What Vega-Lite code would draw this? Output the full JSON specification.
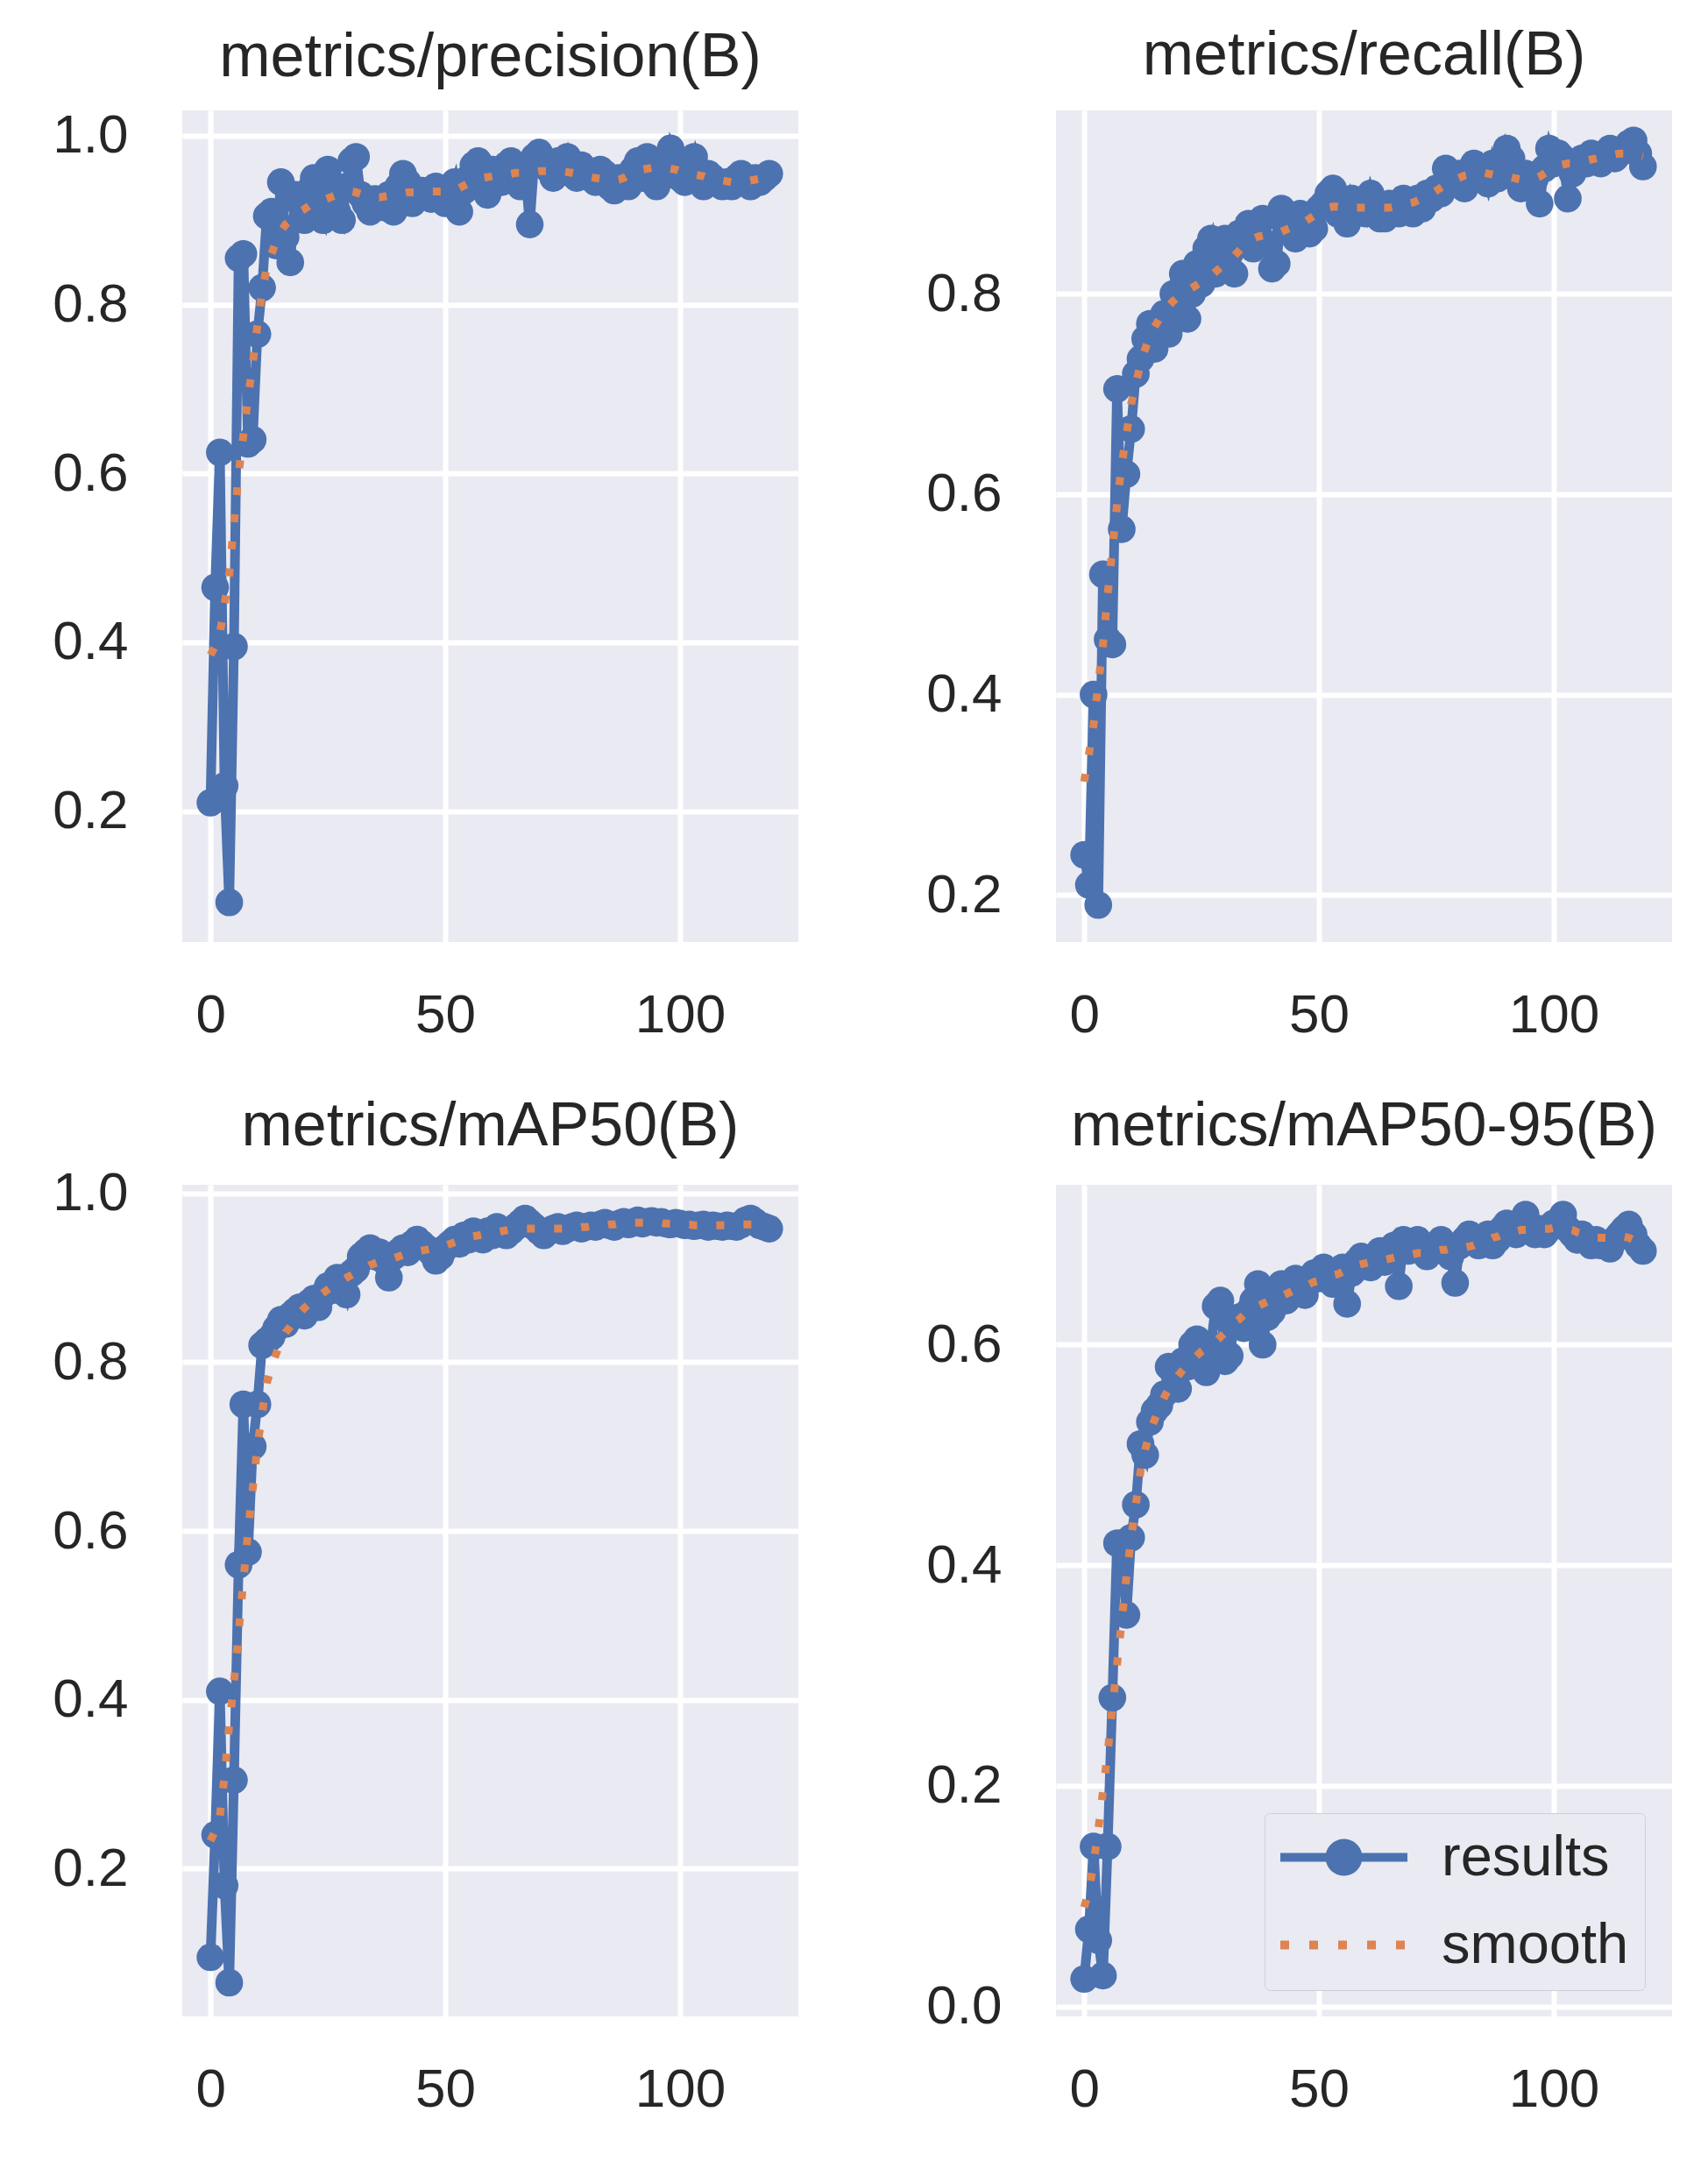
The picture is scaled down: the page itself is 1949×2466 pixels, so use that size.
{
  "$schema": "https://vega.github.io/schema/vega-lite/v6.json",
  "background": "white",
  "padding": {"left": 59, "top": 29, "right": 5, "bottom": 5},
  "datasets": {
    "runs": [
      {"metric":"P","epoch":0,"results":0.21,"smooth":0.385},
      {"metric":"P","epoch":1,"results":0.465,"smooth":0.395},
      {"metric":"P","epoch":2,"results":0.625,"smooth":0.41},
      {"metric":"P","epoch":3,"results":0.23,"smooth":0.445},
      {"metric":"P","epoch":4,"results":0.092,"smooth":0.48},
      {"metric":"P","epoch":5,"results":0.395,"smooth":0.54},
      {"metric":"P","epoch":6,"results":0.855,"smooth":0.6},
      {"metric":"P","epoch":7,"results":0.86,"smooth":0.645},
      {"metric":"P","epoch":8,"results":0.635,"smooth":0.69},
      {"metric":"P","epoch":9,"results":0.64,"smooth":0.73},
      {"metric":"P","epoch":10,"results":0.765,"smooth":0.775},
      {"metric":"P","epoch":11,"results":0.82,"smooth":0.815},
      {"metric":"P","epoch":12,"results":0.905,"smooth":0.845},
      {"metric":"P","epoch":13,"results":0.91,"smooth":0.86},
      {"metric":"P","epoch":14,"results":0.87,"smooth":0.875},
      {"metric":"P","epoch":15,"results":0.945,"smooth":0.887},
      {"metric":"P","epoch":16,"results":0.88,"smooth":0.895},
      {"metric":"P","epoch":17,"results":0.85,"smooth":0.9},
      {"metric":"P","epoch":18,"results":0.93,"smooth":0.905},
      {"metric":"P","epoch":19,"results":0.92,"smooth":0.91},
      {"metric":"P","epoch":20,"results":0.9,"smooth":0.913},
      {"metric":"P","epoch":21,"results":0.935,"smooth":0.917},
      {"metric":"P","epoch":22,"results":0.95,"smooth":0.92},
      {"metric":"P","epoch":23,"results":0.91,"smooth":0.922},
      {"metric":"P","epoch":24,"results":0.9,"smooth":0.924},
      {"metric":"P","epoch":25,"results":0.96,"smooth":0.926},
      {"metric":"P","epoch":26,"results":0.93,"smooth":0.928},
      {"metric":"P","epoch":27,"results":0.91,"smooth":0.93},
      {"metric":"P","epoch":28,"results":0.9,"smooth":0.932},
      {"metric":"P","epoch":29,"results":0.94,"smooth":0.933},
      {"metric":"P","epoch":30,"results":0.97,"smooth":0.934},
      {"metric":"P","epoch":31,"results":0.975,"smooth":0.933},
      {"metric":"P","epoch":32,"results":0.93,"smooth":0.931},
      {"metric":"P","epoch":33,"results":0.92,"smooth":0.929},
      {"metric":"P","epoch":34,"results":0.91,"smooth":0.928},
      {"metric":"P","epoch":35,"results":0.925,"smooth":0.927},
      {"metric":"P","epoch":36,"results":0.92,"smooth":0.927},
      {"metric":"P","epoch":37,"results":0.915,"smooth":0.928},
      {"metric":"P","epoch":38,"results":0.93,"smooth":0.929},
      {"metric":"P","epoch":39,"results":0.91,"smooth":0.93},
      {"metric":"P","epoch":40,"results":0.94,"smooth":0.931},
      {"metric":"P","epoch":41,"results":0.955,"smooth":0.932},
      {"metric":"P","epoch":42,"results":0.945,"smooth":0.933},
      {"metric":"P","epoch":43,"results":0.92,"smooth":0.933},
      {"metric":"P","epoch":44,"results":0.93,"smooth":0.933},
      {"metric":"P","epoch":45,"results":0.935,"smooth":0.933},
      {"metric":"P","epoch":46,"results":0.93,"smooth":0.933},
      {"metric":"P","epoch":47,"results":0.925,"smooth":0.934},
      {"metric":"P","epoch":48,"results":0.94,"smooth":0.934},
      {"metric":"P","epoch":49,"results":0.93,"smooth":0.934},
      {"metric":"P","epoch":50,"results":0.92,"smooth":0.934},
      {"metric":"P","epoch":51,"results":0.93,"smooth":0.935},
      {"metric":"P","epoch":52,"results":0.945,"smooth":0.936},
      {"metric":"P","epoch":53,"results":0.91,"smooth":0.938},
      {"metric":"P","epoch":54,"results":0.935,"smooth":0.941},
      {"metric":"P","epoch":55,"results":0.95,"smooth":0.944},
      {"metric":"P","epoch":56,"results":0.965,"smooth":0.947},
      {"metric":"P","epoch":57,"results":0.97,"smooth":0.949},
      {"metric":"P","epoch":58,"results":0.94,"smooth":0.95},
      {"metric":"P","epoch":59,"results":0.93,"smooth":0.951},
      {"metric":"P","epoch":60,"results":0.96,"smooth":0.952},
      {"metric":"P","epoch":61,"results":0.95,"smooth":0.953},
      {"metric":"P","epoch":62,"results":0.945,"smooth":0.954},
      {"metric":"P","epoch":63,"results":0.965,"smooth":0.955},
      {"metric":"P","epoch":64,"results":0.97,"smooth":0.955},
      {"metric":"P","epoch":65,"results":0.95,"smooth":0.956},
      {"metric":"P","epoch":66,"results":0.94,"smooth":0.956},
      {"metric":"P","epoch":67,"results":0.96,"smooth":0.957},
      {"metric":"P","epoch":68,"results":0.895,"smooth":0.957},
      {"metric":"P","epoch":69,"results":0.975,"smooth":0.957},
      {"metric":"P","epoch":70,"results":0.98,"smooth":0.958},
      {"metric":"P","epoch":71,"results":0.97,"smooth":0.958},
      {"metric":"P","epoch":72,"results":0.96,"smooth":0.958},
      {"metric":"P","epoch":73,"results":0.95,"smooth":0.958},
      {"metric":"P","epoch":74,"results":0.97,"smooth":0.958},
      {"metric":"P","epoch":75,"results":0.96,"smooth":0.958},
      {"metric":"P","epoch":76,"results":0.975,"smooth":0.957},
      {"metric":"P","epoch":77,"results":0.955,"smooth":0.956},
      {"metric":"P","epoch":78,"results":0.95,"smooth":0.955},
      {"metric":"P","epoch":79,"results":0.965,"smooth":0.954},
      {"metric":"P","epoch":80,"results":0.96,"smooth":0.953},
      {"metric":"P","epoch":81,"results":0.95,"smooth":0.951},
      {"metric":"P","epoch":82,"results":0.945,"smooth":0.95},
      {"metric":"P","epoch":83,"results":0.96,"smooth":0.949},
      {"metric":"P","epoch":84,"results":0.955,"smooth":0.948},
      {"metric":"P","epoch":85,"results":0.94,"smooth":0.947},
      {"metric":"P","epoch":86,"results":0.935,"smooth":0.947},
      {"metric":"P","epoch":87,"results":0.95,"smooth":0.948},
      {"metric":"P","epoch":88,"results":0.945,"smooth":0.95},
      {"metric":"P","epoch":89,"results":0.94,"smooth":0.953},
      {"metric":"P","epoch":90,"results":0.96,"smooth":0.956},
      {"metric":"P","epoch":91,"results":0.97,"smooth":0.958},
      {"metric":"P","epoch":92,"results":0.95,"smooth":0.96},
      {"metric":"P","epoch":93,"results":0.975,"smooth":0.961},
      {"metric":"P","epoch":94,"results":0.965,"smooth":0.962},
      {"metric":"P","epoch":95,"results":0.94,"smooth":0.962},
      {"metric":"P","epoch":96,"results":0.95,"smooth":0.962},
      {"metric":"P","epoch":97,"results":0.96,"smooth":0.962},
      {"metric":"P","epoch":98,"results":0.985,"smooth":0.961},
      {"metric":"P","epoch":99,"results":0.97,"smooth":0.96},
      {"metric":"P","epoch":100,"results":0.95,"smooth":0.958},
      {"metric":"P","epoch":101,"results":0.945,"smooth":0.956},
      {"metric":"P","epoch":102,"results":0.96,"smooth":0.955},
      {"metric":"P","epoch":103,"results":0.975,"smooth":0.954},
      {"metric":"P","epoch":104,"results":0.95,"smooth":0.953},
      {"metric":"P","epoch":105,"results":0.94,"smooth":0.952},
      {"metric":"P","epoch":106,"results":0.955,"smooth":0.95},
      {"metric":"P","epoch":107,"results":0.95,"smooth":0.949},
      {"metric":"P","epoch":108,"results":0.945,"smooth":0.948},
      {"metric":"P","epoch":109,"results":0.94,"smooth":0.947},
      {"metric":"P","epoch":110,"results":0.945,"smooth":0.946},
      {"metric":"P","epoch":111,"results":0.94,"smooth":0.945},
      {"metric":"P","epoch":112,"results":0.95,"smooth":0.945},
      {"metric":"P","epoch":113,"results":0.955,"smooth":0.945},
      {"metric":"P","epoch":114,"results":0.945,"smooth":0.946},
      {"metric":"P","epoch":115,"results":0.94,"smooth":0.947},
      {"metric":"P","epoch":116,"results":0.95,"smooth":0.948},
      {"metric":"P","epoch":117,"results":0.945,"smooth":0.949},
      {"metric":"P","epoch":118,"results":0.95,"smooth":0.95},
      {"metric":"P","epoch":119,"results":0.955,"smooth":0.951},
      {"metric":"R","epoch":0,"results":0.24,"smooth":0.313},
      {"metric":"R","epoch":1,"results":0.21,"smooth":0.34},
      {"metric":"R","epoch":2,"results":0.4,"smooth":0.37},
      {"metric":"R","epoch":3,"results":0.19,"smooth":0.41},
      {"metric":"R","epoch":4,"results":0.52,"smooth":0.45},
      {"metric":"R","epoch":5,"results":0.455,"smooth":0.5},
      {"metric":"R","epoch":6,"results":0.45,"smooth":0.545},
      {"metric":"R","epoch":7,"results":0.705,"smooth":0.59},
      {"metric":"R","epoch":8,"results":0.565,"smooth":0.63},
      {"metric":"R","epoch":9,"results":0.62,"smooth":0.66},
      {"metric":"R","epoch":10,"results":0.665,"smooth":0.69},
      {"metric":"R","epoch":11,"results":0.72,"smooth":0.71},
      {"metric":"R","epoch":12,"results":0.735,"smooth":0.73},
      {"metric":"R","epoch":13,"results":0.755,"smooth":0.745},
      {"metric":"R","epoch":14,"results":0.77,"smooth":0.758},
      {"metric":"R","epoch":15,"results":0.745,"smooth":0.767},
      {"metric":"R","epoch":16,"results":0.765,"smooth":0.775},
      {"metric":"R","epoch":17,"results":0.78,"smooth":0.782},
      {"metric":"R","epoch":18,"results":0.76,"smooth":0.788},
      {"metric":"R","epoch":19,"results":0.8,"smooth":0.793},
      {"metric":"R","epoch":20,"results":0.79,"smooth":0.797},
      {"metric":"R","epoch":21,"results":0.82,"smooth":0.8},
      {"metric":"R","epoch":22,"results":0.775,"smooth":0.803},
      {"metric":"R","epoch":23,"results":0.8,"smooth":0.806},
      {"metric":"R","epoch":24,"results":0.83,"smooth":0.809},
      {"metric":"R","epoch":25,"results":0.81,"smooth":0.812},
      {"metric":"R","epoch":26,"results":0.845,"smooth":0.815},
      {"metric":"R","epoch":27,"results":0.855,"smooth":0.818},
      {"metric":"R","epoch":28,"results":0.82,"smooth":0.822},
      {"metric":"R","epoch":29,"results":0.83,"smooth":0.826},
      {"metric":"R","epoch":30,"results":0.855,"smooth":0.83},
      {"metric":"R","epoch":31,"results":0.84,"smooth":0.834},
      {"metric":"R","epoch":32,"results":0.82,"smooth":0.838},
      {"metric":"R","epoch":33,"results":0.86,"smooth":0.843},
      {"metric":"R","epoch":34,"results":0.85,"smooth":0.848},
      {"metric":"R","epoch":35,"results":0.87,"smooth":0.852},
      {"metric":"R","epoch":36,"results":0.845,"smooth":0.855},
      {"metric":"R","epoch":37,"results":0.86,"smooth":0.857},
      {"metric":"R","epoch":38,"results":0.875,"smooth":0.858},
      {"metric":"R","epoch":39,"results":0.85,"smooth":0.859},
      {"metric":"R","epoch":40,"results":0.825,"smooth":0.86},
      {"metric":"R","epoch":41,"results":0.83,"smooth":0.861},
      {"metric":"R","epoch":42,"results":0.885,"smooth":0.862},
      {"metric":"R","epoch":43,"results":0.865,"smooth":0.864},
      {"metric":"R","epoch":44,"results":0.87,"smooth":0.866},
      {"metric":"R","epoch":45,"results":0.855,"smooth":0.868},
      {"metric":"R","epoch":46,"results":0.88,"smooth":0.87},
      {"metric":"R","epoch":47,"results":0.875,"smooth":0.872},
      {"metric":"R","epoch":48,"results":0.86,"smooth":0.875},
      {"metric":"R","epoch":49,"results":0.865,"smooth":0.878},
      {"metric":"R","epoch":50,"results":0.885,"smooth":0.881},
      {"metric":"R","epoch":51,"results":0.89,"smooth":0.884},
      {"metric":"R","epoch":52,"results":0.9,"smooth":0.886},
      {"metric":"R","epoch":53,"results":0.905,"smooth":0.887},
      {"metric":"R","epoch":54,"results":0.88,"smooth":0.887},
      {"metric":"R","epoch":55,"results":0.885,"smooth":0.886},
      {"metric":"R","epoch":56,"results":0.87,"smooth":0.886},
      {"metric":"R","epoch":57,"results":0.895,"smooth":0.886},
      {"metric":"R","epoch":58,"results":0.885,"smooth":0.886},
      {"metric":"R","epoch":59,"results":0.89,"smooth":0.886},
      {"metric":"R","epoch":60,"results":0.88,"smooth":0.886},
      {"metric":"R","epoch":61,"results":0.9,"smooth":0.886},
      {"metric":"R","epoch":62,"results":0.885,"smooth":0.886},
      {"metric":"R","epoch":63,"results":0.875,"smooth":0.886},
      {"metric":"R","epoch":64,"results":0.875,"smooth":0.886},
      {"metric":"R","epoch":65,"results":0.89,"smooth":0.886},
      {"metric":"R","epoch":66,"results":0.885,"smooth":0.887},
      {"metric":"R","epoch":67,"results":0.88,"smooth":0.888},
      {"metric":"R","epoch":68,"results":0.895,"smooth":0.889},
      {"metric":"R","epoch":69,"results":0.89,"smooth":0.89},
      {"metric":"R","epoch":70,"results":0.88,"smooth":0.891},
      {"metric":"R","epoch":71,"results":0.895,"smooth":0.893},
      {"metric":"R","epoch":72,"results":0.885,"smooth":0.895},
      {"metric":"R","epoch":73,"results":0.9,"smooth":0.897},
      {"metric":"R","epoch":74,"results":0.895,"smooth":0.9},
      {"metric":"R","epoch":75,"results":0.905,"smooth":0.903},
      {"metric":"R","epoch":76,"results":0.9,"smooth":0.906},
      {"metric":"R","epoch":77,"results":0.925,"smooth":0.909},
      {"metric":"R","epoch":78,"results":0.91,"smooth":0.912},
      {"metric":"R","epoch":79,"results":0.915,"smooth":0.914},
      {"metric":"R","epoch":80,"results":0.92,"smooth":0.916},
      {"metric":"R","epoch":81,"results":0.905,"smooth":0.918},
      {"metric":"R","epoch":82,"results":0.915,"smooth":0.919},
      {"metric":"R","epoch":83,"results":0.93,"smooth":0.92},
      {"metric":"R","epoch":84,"results":0.92,"smooth":0.921},
      {"metric":"R","epoch":85,"results":0.925,"smooth":0.921},
      {"metric":"R","epoch":86,"results":0.91,"smooth":0.92},
      {"metric":"R","epoch":87,"results":0.93,"smooth":0.919},
      {"metric":"R","epoch":88,"results":0.915,"smooth":0.918},
      {"metric":"R","epoch":89,"results":0.92,"smooth":0.917},
      {"metric":"R","epoch":90,"results":0.945,"smooth":0.916},
      {"metric":"R","epoch":91,"results":0.935,"smooth":0.916},
      {"metric":"R","epoch":92,"results":0.915,"smooth":0.915},
      {"metric":"R","epoch":93,"results":0.905,"smooth":0.914},
      {"metric":"R","epoch":94,"results":0.92,"smooth":0.914},
      {"metric":"R","epoch":95,"results":0.91,"smooth":0.914},
      {"metric":"R","epoch":96,"results":0.915,"smooth":0.915},
      {"metric":"R","epoch":97,"results":0.89,"smooth":0.917},
      {"metric":"R","epoch":98,"results":0.925,"smooth":0.92},
      {"metric":"R","epoch":99,"results":0.945,"smooth":0.923},
      {"metric":"R","epoch":100,"results":0.93,"smooth":0.926},
      {"metric":"R","epoch":101,"results":0.94,"smooth":0.928},
      {"metric":"R","epoch":102,"results":0.935,"smooth":0.929},
      {"metric":"R","epoch":103,"results":0.895,"smooth":0.93},
      {"metric":"R","epoch":104,"results":0.92,"smooth":0.93},
      {"metric":"R","epoch":105,"results":0.93,"smooth":0.931},
      {"metric":"R","epoch":106,"results":0.935,"smooth":0.932},
      {"metric":"R","epoch":107,"results":0.93,"smooth":0.933},
      {"metric":"R","epoch":108,"results":0.94,"smooth":0.934},
      {"metric":"R","epoch":109,"results":0.935,"smooth":0.935},
      {"metric":"R","epoch":110,"results":0.93,"smooth":0.936},
      {"metric":"R","epoch":111,"results":0.94,"smooth":0.937},
      {"metric":"R","epoch":112,"results":0.945,"smooth":0.938},
      {"metric":"R","epoch":113,"results":0.935,"smooth":0.939},
      {"metric":"R","epoch":114,"results":0.94,"smooth":0.94},
      {"metric":"R","epoch":115,"results":0.945,"smooth":0.94},
      {"metric":"R","epoch":116,"results":0.95,"smooth":0.94},
      {"metric":"R","epoch":117,"results":0.953,"smooth":0.939},
      {"metric":"R","epoch":118,"results":0.94,"smooth":0.938},
      {"metric":"R","epoch":119,"results":0.927,"smooth":0.937},
      {"metric":"M50","epoch":0,"results":0.095,"smooth":0.233},
      {"metric":"M50","epoch":1,"results":0.24,"smooth":0.245},
      {"metric":"M50","epoch":2,"results":0.41,"smooth":0.262},
      {"metric":"M50","epoch":3,"results":0.18,"smooth":0.31},
      {"metric":"M50","epoch":4,"results":0.065,"smooth":0.37},
      {"metric":"M50","epoch":5,"results":0.305,"smooth":0.42},
      {"metric":"M50","epoch":6,"results":0.56,"smooth":0.48},
      {"metric":"M50","epoch":7,"results":0.75,"smooth":0.54},
      {"metric":"M50","epoch":8,"results":0.575,"smooth":0.6},
      {"metric":"M50","epoch":9,"results":0.7,"smooth":0.65},
      {"metric":"M50","epoch":10,"results":0.75,"smooth":0.7},
      {"metric":"M50","epoch":11,"results":0.82,"smooth":0.74},
      {"metric":"M50","epoch":12,"results":0.825,"smooth":0.775},
      {"metric":"M50","epoch":13,"results":0.83,"smooth":0.795},
      {"metric":"M50","epoch":14,"results":0.84,"smooth":0.81},
      {"metric":"M50","epoch":15,"results":0.85,"smooth":0.825},
      {"metric":"M50","epoch":16,"results":0.845,"smooth":0.835},
      {"metric":"M50","epoch":17,"results":0.855,"smooth":0.842},
      {"metric":"M50","epoch":18,"results":0.86,"smooth":0.85},
      {"metric":"M50","epoch":19,"results":0.865,"smooth":0.858},
      {"metric":"M50","epoch":20,"results":0.855,"smooth":0.864},
      {"metric":"M50","epoch":21,"results":0.87,"smooth":0.869},
      {"metric":"M50","epoch":22,"results":0.875,"smooth":0.874},
      {"metric":"M50","epoch":23,"results":0.865,"smooth":0.878},
      {"metric":"M50","epoch":24,"results":0.88,"smooth":0.882},
      {"metric":"M50","epoch":25,"results":0.89,"smooth":0.886},
      {"metric":"M50","epoch":26,"results":0.885,"smooth":0.89},
      {"metric":"M50","epoch":27,"results":0.9,"smooth":0.894},
      {"metric":"M50","epoch":28,"results":0.895,"smooth":0.897},
      {"metric":"M50","epoch":29,"results":0.88,"smooth":0.9},
      {"metric":"M50","epoch":30,"results":0.905,"smooth":0.903},
      {"metric":"M50","epoch":31,"results":0.91,"smooth":0.906},
      {"metric":"M50","epoch":32,"results":0.925,"smooth":0.909},
      {"metric":"M50","epoch":33,"results":0.93,"smooth":0.912},
      {"metric":"M50","epoch":34,"results":0.935,"smooth":0.915},
      {"metric":"M50","epoch":35,"results":0.925,"smooth":0.917},
      {"metric":"M50","epoch":36,"results":0.93,"smooth":0.919},
      {"metric":"M50","epoch":37,"results":0.92,"smooth":0.921},
      {"metric":"M50","epoch":38,"results":0.9,"smooth":0.922},
      {"metric":"M50","epoch":39,"results":0.925,"smooth":0.923},
      {"metric":"M50","epoch":40,"results":0.93,"smooth":0.925},
      {"metric":"M50","epoch":41,"results":0.935,"smooth":0.927},
      {"metric":"M50","epoch":42,"results":0.93,"smooth":0.929},
      {"metric":"M50","epoch":43,"results":0.94,"smooth":0.93},
      {"metric":"M50","epoch":44,"results":0.945,"smooth":0.931},
      {"metric":"M50","epoch":45,"results":0.94,"smooth":0.932},
      {"metric":"M50","epoch":46,"results":0.935,"smooth":0.933},
      {"metric":"M50","epoch":47,"results":0.93,"smooth":0.934},
      {"metric":"M50","epoch":48,"results":0.92,"smooth":0.935},
      {"metric":"M50","epoch":49,"results":0.925,"smooth":0.937},
      {"metric":"M50","epoch":50,"results":0.935,"smooth":0.938},
      {"metric":"M50","epoch":51,"results":0.94,"smooth":0.94},
      {"metric":"M50","epoch":52,"results":0.945,"smooth":0.942},
      {"metric":"M50","epoch":53,"results":0.94,"smooth":0.944},
      {"metric":"M50","epoch":54,"results":0.95,"smooth":0.946},
      {"metric":"M50","epoch":55,"results":0.945,"smooth":0.948},
      {"metric":"M50","epoch":56,"results":0.955,"smooth":0.949},
      {"metric":"M50","epoch":57,"results":0.95,"smooth":0.95},
      {"metric":"M50","epoch":58,"results":0.945,"smooth":0.951},
      {"metric":"M50","epoch":59,"results":0.955,"smooth":0.952},
      {"metric":"M50","epoch":60,"results":0.95,"smooth":0.953},
      {"metric":"M50","epoch":61,"results":0.96,"smooth":0.954},
      {"metric":"M50","epoch":62,"results":0.955,"smooth":0.955},
      {"metric":"M50","epoch":63,"results":0.95,"smooth":0.956},
      {"metric":"M50","epoch":64,"results":0.955,"smooth":0.957},
      {"metric":"M50","epoch":65,"results":0.96,"smooth":0.957},
      {"metric":"M50","epoch":66,"results":0.965,"smooth":0.958},
      {"metric":"M50","epoch":67,"results":0.97,"smooth":0.958},
      {"metric":"M50","epoch":68,"results":0.965,"smooth":0.958},
      {"metric":"M50","epoch":69,"results":0.96,"smooth":0.958},
      {"metric":"M50","epoch":70,"results":0.955,"smooth":0.958},
      {"metric":"M50","epoch":71,"results":0.95,"smooth":0.958},
      {"metric":"M50","epoch":72,"results":0.955,"smooth":0.958},
      {"metric":"M50","epoch":73,"results":0.958,"smooth":0.958},
      {"metric":"M50","epoch":74,"results":0.96,"smooth":0.958},
      {"metric":"M50","epoch":75,"results":0.955,"smooth":0.958},
      {"metric":"M50","epoch":76,"results":0.958,"smooth":0.959},
      {"metric":"M50","epoch":77,"results":0.96,"smooth":0.959},
      {"metric":"M50","epoch":78,"results":0.962,"smooth":0.959},
      {"metric":"M50","epoch":79,"results":0.958,"smooth":0.96},
      {"metric":"M50","epoch":80,"results":0.96,"smooth":0.96},
      {"metric":"M50","epoch":81,"results":0.962,"smooth":0.961},
      {"metric":"M50","epoch":82,"results":0.96,"smooth":0.961},
      {"metric":"M50","epoch":83,"results":0.963,"smooth":0.962},
      {"metric":"M50","epoch":84,"results":0.965,"smooth":0.962},
      {"metric":"M50","epoch":85,"results":0.962,"smooth":0.963},
      {"metric":"M50","epoch":86,"results":0.96,"smooth":0.963},
      {"metric":"M50","epoch":87,"results":0.964,"smooth":0.964},
      {"metric":"M50","epoch":88,"results":0.966,"smooth":0.964},
      {"metric":"M50","epoch":89,"results":0.963,"smooth":0.965},
      {"metric":"M50","epoch":90,"results":0.965,"smooth":0.965},
      {"metric":"M50","epoch":91,"results":0.968,"smooth":0.965},
      {"metric":"M50","epoch":92,"results":0.964,"smooth":0.965},
      {"metric":"M50","epoch":93,"results":0.966,"smooth":0.965},
      {"metric":"M50","epoch":94,"results":0.967,"smooth":0.965},
      {"metric":"M50","epoch":95,"results":0.965,"smooth":0.965},
      {"metric":"M50","epoch":96,"results":0.966,"smooth":0.965},
      {"metric":"M50","epoch":97,"results":0.964,"smooth":0.964},
      {"metric":"M50","epoch":98,"results":0.963,"smooth":0.964},
      {"metric":"M50","epoch":99,"results":0.965,"smooth":0.964},
      {"metric":"M50","epoch":100,"results":0.964,"smooth":0.963},
      {"metric":"M50","epoch":101,"results":0.962,"smooth":0.963},
      {"metric":"M50","epoch":102,"results":0.963,"smooth":0.963},
      {"metric":"M50","epoch":103,"results":0.961,"smooth":0.962},
      {"metric":"M50","epoch":104,"results":0.962,"smooth":0.962},
      {"metric":"M50","epoch":105,"results":0.963,"smooth":0.962},
      {"metric":"M50","epoch":106,"results":0.96,"smooth":0.962},
      {"metric":"M50","epoch":107,"results":0.962,"smooth":0.962},
      {"metric":"M50","epoch":108,"results":0.961,"smooth":0.962},
      {"metric":"M50","epoch":109,"results":0.96,"smooth":0.962},
      {"metric":"M50","epoch":110,"results":0.962,"smooth":0.962},
      {"metric":"M50","epoch":111,"results":0.961,"smooth":0.962},
      {"metric":"M50","epoch":112,"results":0.96,"smooth":0.962},
      {"metric":"M50","epoch":113,"results":0.963,"smooth":0.963},
      {"metric":"M50","epoch":114,"results":0.968,"smooth":0.963},
      {"metric":"M50","epoch":115,"results":0.97,"smooth":0.963},
      {"metric":"M50","epoch":116,"results":0.966,"smooth":0.963},
      {"metric":"M50","epoch":117,"results":0.962,"smooth":0.962},
      {"metric":"M50","epoch":118,"results":0.96,"smooth":0.961},
      {"metric":"M50","epoch":119,"results":0.958,"smooth":0.96},
      {"metric":"M95","epoch":0,"results":0.025,"smooth":0.09},
      {"metric":"M95","epoch":1,"results":0.07,"smooth":0.105},
      {"metric":"M95","epoch":2,"results":0.145,"smooth":0.13},
      {"metric":"M95","epoch":3,"results":0.06,"smooth":0.16},
      {"metric":"M95","epoch":4,"results":0.028,"smooth":0.195},
      {"metric":"M95","epoch":5,"results":0.145,"smooth":0.23},
      {"metric":"M95","epoch":6,"results":0.28,"smooth":0.27},
      {"metric":"M95","epoch":7,"results":0.42,"smooth":0.31},
      {"metric":"M95","epoch":8,"results":0.42,"smooth":0.35},
      {"metric":"M95","epoch":9,"results":0.355,"smooth":0.39},
      {"metric":"M95","epoch":10,"results":0.425,"smooth":0.425},
      {"metric":"M95","epoch":11,"results":0.455,"smooth":0.455},
      {"metric":"M95","epoch":12,"results":0.51,"smooth":0.485},
      {"metric":"M95","epoch":13,"results":0.5,"smooth":0.505},
      {"metric":"M95","epoch":14,"results":0.53,"smooth":0.52},
      {"metric":"M95","epoch":15,"results":0.54,"smooth":0.532},
      {"metric":"M95","epoch":16,"results":0.545,"smooth":0.543},
      {"metric":"M95","epoch":17,"results":0.555,"smooth":0.552},
      {"metric":"M95","epoch":18,"results":0.58,"smooth":0.56},
      {"metric":"M95","epoch":19,"results":0.575,"smooth":0.566},
      {"metric":"M95","epoch":20,"results":0.56,"smooth":0.572},
      {"metric":"M95","epoch":21,"results":0.585,"smooth":0.577},
      {"metric":"M95","epoch":22,"results":0.58,"smooth":0.582},
      {"metric":"M95","epoch":23,"results":0.6,"smooth":0.586},
      {"metric":"M95","epoch":24,"results":0.605,"smooth":0.59},
      {"metric":"M95","epoch":25,"results":0.59,"smooth":0.594},
      {"metric":"M95","epoch":26,"results":0.575,"smooth":0.597},
      {"metric":"M95","epoch":27,"results":0.6,"smooth":0.6},
      {"metric":"M95","epoch":28,"results":0.635,"smooth":0.603},
      {"metric":"M95","epoch":29,"results":0.64,"smooth":0.607},
      {"metric":"M95","epoch":30,"results":0.585,"smooth":0.611},
      {"metric":"M95","epoch":31,"results":0.59,"smooth":0.615},
      {"metric":"M95","epoch":32,"results":0.62,"smooth":0.62},
      {"metric":"M95","epoch":33,"results":0.625,"smooth":0.623},
      {"metric":"M95","epoch":34,"results":0.615,"smooth":0.627},
      {"metric":"M95","epoch":35,"results":0.63,"smooth":0.63},
      {"metric":"M95","epoch":36,"results":0.64,"smooth":0.633},
      {"metric":"M95","epoch":37,"results":0.655,"smooth":0.635},
      {"metric":"M95","epoch":38,"results":0.6,"smooth":0.637},
      {"metric":"M95","epoch":39,"results":0.625,"smooth":0.639},
      {"metric":"M95","epoch":40,"results":0.63,"smooth":0.641},
      {"metric":"M95","epoch":41,"results":0.645,"smooth":0.642},
      {"metric":"M95","epoch":42,"results":0.655,"smooth":0.644},
      {"metric":"M95","epoch":43,"results":0.64,"smooth":0.646},
      {"metric":"M95","epoch":44,"results":0.645,"smooth":0.648},
      {"metric":"M95","epoch":45,"results":0.66,"smooth":0.65},
      {"metric":"M95","epoch":46,"results":0.655,"smooth":0.651},
      {"metric":"M95","epoch":47,"results":0.645,"smooth":0.653},
      {"metric":"M95","epoch":48,"results":0.66,"smooth":0.655},
      {"metric":"M95","epoch":49,"results":0.665,"smooth":0.657},
      {"metric":"M95","epoch":50,"results":0.66,"smooth":0.658},
      {"metric":"M95","epoch":51,"results":0.67,"smooth":0.66},
      {"metric":"M95","epoch":52,"results":0.665,"smooth":0.661},
      {"metric":"M95","epoch":53,"results":0.655,"smooth":0.663},
      {"metric":"M95","epoch":54,"results":0.665,"smooth":0.664},
      {"metric":"M95","epoch":55,"results":0.67,"smooth":0.666},
      {"metric":"M95","epoch":56,"results":0.637,"smooth":0.668},
      {"metric":"M95","epoch":57,"results":0.665,"smooth":0.67},
      {"metric":"M95","epoch":58,"results":0.675,"smooth":0.672},
      {"metric":"M95","epoch":59,"results":0.68,"smooth":0.673},
      {"metric":"M95","epoch":60,"results":0.675,"smooth":0.674},
      {"metric":"M95","epoch":61,"results":0.67,"smooth":0.675},
      {"metric":"M95","epoch":62,"results":0.68,"smooth":0.676},
      {"metric":"M95","epoch":63,"results":0.685,"smooth":0.677},
      {"metric":"M95","epoch":64,"results":0.675,"smooth":0.677},
      {"metric":"M95","epoch":65,"results":0.68,"smooth":0.678},
      {"metric":"M95","epoch":66,"results":0.69,"smooth":0.679},
      {"metric":"M95","epoch":67,"results":0.653,"smooth":0.68},
      {"metric":"M95","epoch":68,"results":0.695,"smooth":0.68},
      {"metric":"M95","epoch":69,"results":0.685,"smooth":0.681},
      {"metric":"M95","epoch":70,"results":0.69,"smooth":0.682},
      {"metric":"M95","epoch":71,"results":0.695,"smooth":0.683},
      {"metric":"M95","epoch":72,"results":0.685,"smooth":0.683},
      {"metric":"M95","epoch":73,"results":0.68,"smooth":0.684},
      {"metric":"M95","epoch":74,"results":0.685,"smooth":0.685},
      {"metric":"M95","epoch":75,"results":0.69,"smooth":0.685},
      {"metric":"M95","epoch":76,"results":0.695,"smooth":0.686},
      {"metric":"M95","epoch":77,"results":0.685,"smooth":0.686},
      {"metric":"M95","epoch":78,"results":0.68,"smooth":0.687},
      {"metric":"M95","epoch":79,"results":0.656,"smooth":0.687},
      {"metric":"M95","epoch":80,"results":0.69,"smooth":0.687},
      {"metric":"M95","epoch":81,"results":0.695,"smooth":0.688},
      {"metric":"M95","epoch":82,"results":0.7,"smooth":0.689},
      {"metric":"M95","epoch":83,"results":0.695,"smooth":0.69},
      {"metric":"M95","epoch":84,"results":0.69,"smooth":0.692},
      {"metric":"M95","epoch":85,"results":0.695,"smooth":0.693},
      {"metric":"M95","epoch":86,"results":0.7,"smooth":0.695},
      {"metric":"M95","epoch":87,"results":0.69,"smooth":0.697},
      {"metric":"M95","epoch":88,"results":0.695,"smooth":0.698},
      {"metric":"M95","epoch":89,"results":0.705,"smooth":0.7},
      {"metric":"M95","epoch":90,"results":0.71,"smooth":0.701},
      {"metric":"M95","epoch":91,"results":0.705,"smooth":0.702},
      {"metric":"M95","epoch":92,"results":0.7,"smooth":0.703},
      {"metric":"M95","epoch":93,"results":0.71,"smooth":0.704},
      {"metric":"M95","epoch":94,"results":0.718,"smooth":0.704},
      {"metric":"M95","epoch":95,"results":0.705,"smooth":0.704},
      {"metric":"M95","epoch":96,"results":0.7,"smooth":0.704},
      {"metric":"M95","epoch":97,"results":0.705,"smooth":0.705},
      {"metric":"M95","epoch":98,"results":0.7,"smooth":0.705},
      {"metric":"M95","epoch":99,"results":0.705,"smooth":0.705},
      {"metric":"M95","epoch":100,"results":0.71,"smooth":0.706},
      {"metric":"M95","epoch":101,"results":0.712,"smooth":0.706},
      {"metric":"M95","epoch":102,"results":0.718,"smooth":0.706},
      {"metric":"M95","epoch":103,"results":0.705,"smooth":0.705},
      {"metric":"M95","epoch":104,"results":0.7,"smooth":0.704},
      {"metric":"M95","epoch":105,"results":0.695,"smooth":0.702},
      {"metric":"M95","epoch":106,"results":0.7,"smooth":0.701},
      {"metric":"M95","epoch":107,"results":0.695,"smooth":0.699},
      {"metric":"M95","epoch":108,"results":0.69,"smooth":0.698},
      {"metric":"M95","epoch":109,"results":0.695,"smooth":0.697},
      {"metric":"M95","epoch":110,"results":0.69,"smooth":0.697},
      {"metric":"M95","epoch":111,"results":0.69,"smooth":0.697},
      {"metric":"M95","epoch":112,"results":0.687,"smooth":0.697},
      {"metric":"M95","epoch":113,"results":0.695,"smooth":0.697},
      {"metric":"M95","epoch":114,"results":0.7,"smooth":0.698},
      {"metric":"M95","epoch":115,"results":0.705,"smooth":0.698},
      {"metric":"M95","epoch":116,"results":0.709,"smooth":0.697},
      {"metric":"M95","epoch":117,"results":0.7,"smooth":0.695},
      {"metric":"M95","epoch":118,"results":0.69,"smooth":0.694},
      {"metric":"M95","epoch":119,"results":0.685,"smooth":0.692}
    ]
  },
  "columns": 2,
  "spacing": {"row": 61, "column": 145},
  "resolve": {"scale": {"color": "independent"}, "legend": {"color": "independent"}},
  "concat": [
    {
      "title": {"text": "metrics/precision(B)", "offset": 22},
      "width": 703,
      "height": 949,
      "data": {"name": "runs"},
      "transform": [{"filter": "datum.metric === 'P'"}],
      "layer": [
        {
          "mark": {"type": "line", "color": "#4C72B0", "strokeWidth": 11, "point": {"filled": true, "size": 1000, "color": "#4C72B0", "opacity": 1}},
          "encoding": {
            "x": {"field": "epoch", "type": "quantitative", "title": null, "scale": {"domain": [-6, 125.2], "nice": false, "zero": false}, "axis": {"values": [0, 50, 100]}},
            "y": {"field": "results", "type": "quantitative", "title": null, "scale": {"domain": [0.045, 1.03], "nice": false, "zero": false}, "axis": {"values": [0.2, 0.4, 0.6, 0.8, 1.0], "format": ".1f"}}
          }
        },
        {
          "mark": {"type": "line", "color": "#DD8452", "strokeWidth": 9, "strokeDash": [9, 22]},
          "encoding": {
            "x": {"field": "epoch", "type": "quantitative", "title": null},
            "y": {"field": "smooth", "type": "quantitative", "title": null}
          }
        }
      ]
    },
    {
      "title": {"text": "metrics/recall(B)", "offset": 26},
      "width": 703,
      "height": 949,
      "data": {"name": "runs"},
      "transform": [{"filter": "datum.metric === 'R'"}],
      "layer": [
        {
          "mark": {"type": "line", "color": "#4C72B0", "strokeWidth": 11, "point": {"filled": true, "size": 1000, "color": "#4C72B0", "opacity": 1}},
          "encoding": {
            "x": {"field": "epoch", "type": "quantitative", "title": null, "scale": {"domain": [-6, 125.2], "nice": false, "zero": false}, "axis": {"values": [0, 50, 100]}},
            "y": {"field": "results", "type": "quantitative", "title": null, "scale": {"domain": [0.153, 0.983], "nice": false, "zero": false}, "axis": {"values": [0.2, 0.4, 0.6, 0.8], "format": ".1f"}}
          }
        },
        {
          "mark": {"type": "line", "color": "#DD8452", "strokeWidth": 9, "strokeDash": [9, 22]},
          "encoding": {
            "x": {"field": "epoch", "type": "quantitative", "title": null},
            "y": {"field": "smooth", "type": "quantitative", "title": null}
          }
        }
      ]
    },
    {
      "title": {"text": "metrics/mAP50(B)", "offset": 9},
      "width": 703,
      "height": 949,
      "data": {"name": "runs"},
      "transform": [{"filter": "datum.metric === 'M50'"}],
      "layer": [
        {
          "mark": {"type": "line", "color": "#4C72B0", "strokeWidth": 11, "point": {"filled": true, "size": 1000, "color": "#4C72B0", "opacity": 1}},
          "encoding": {
            "x": {"field": "epoch", "type": "quantitative", "title": null, "scale": {"domain": [-6, 125.2], "nice": false, "zero": false}, "axis": {"values": [0, 50, 100]}},
            "y": {"field": "results", "type": "quantitative", "title": null, "scale": {"domain": [0.025, 1.01], "nice": false, "zero": false}, "axis": {"values": [0.2, 0.4, 0.6, 0.8, 1.0], "format": ".1f"}}
          }
        },
        {
          "mark": {"type": "line", "color": "#DD8452", "strokeWidth": 9, "strokeDash": [9, 22]},
          "encoding": {
            "x": {"field": "epoch", "type": "quantitative", "title": null},
            "y": {"field": "smooth", "type": "quantitative", "title": null}
          }
        }
      ]
    },
    {
      "title": {"text": "metrics/mAP50-95(B)", "offset": 30},
      "width": 703,
      "height": 949,
      "data": {"name": "runs"},
      "transform": [{"filter": "datum.metric === 'M95'"}],
      "layer": [
        {
          "mark": {"type": "line", "strokeWidth": 11, "point": {"filled": true, "size": 1000, "opacity": 1}},
          "encoding": {
            "x": {"field": "epoch", "type": "quantitative", "title": null, "scale": {"domain": [-6, 125.2], "nice": false, "zero": false}, "axis": {"values": [0, 50, 100]}},
            "y": {"field": "results", "type": "quantitative", "title": null, "scale": {"domain": [-0.009, 0.745], "nice": false, "zero": false}, "axis": {"values": [0.0, 0.2, 0.4, 0.6], "format": ".1f"}},
            "color": {
              "datum": "results",
              "scale": {"domain": ["results", "smooth"], "range": ["#4C72B0", "#DD8452"]},
              "legend": {
                "title": null,
                "orient": "none",
                "legendX": 238,
                "legendY": 717,
                "padding": 18,
                "fillColor": "#EAEAF2",
                "strokeColor": "#cfcfd7",
                "cornerRadius": 6,
                "labelFontSize": 65,
                "labelFont": "Liberation Sans",
                "labelColor": "#262626",
                "labelLimit": 500,
                "labelOffset": 119,
                "symbolSize": 2336,
                "symbolStrokeWidth": 10,
                "rowPadding": 31,
                "encode": {
                  "symbols": {
                    "update": {
                      "x": {"value": 72.5},
                      "shape": {"signal": "datum.value === 'results' ? 'M-3,0H3M0.66,0A0.66,0.66,0,1,1,-0.66,0A0.66,0.66,0,1,1,0.66,0Z' : 'M-3,0H3'"},
                      "strokeDash": {"signal": "datum.value === 'smooth' ? [10, 23] : [1, 0]"},
                      "fill": {"signal": "datum.value === 'results' ? '#4C72B0' : 'transparent'"},
                      "fillOpacity": {"value": 1},
                      "strokeCap": {"value": "butt"}
                    }
                  }
                }
              }
            }
          }
        },
        {
          "mark": {"type": "line", "strokeWidth": 9, "strokeDash": [9, 22]},
          "encoding": {
            "x": {"field": "epoch", "type": "quantitative", "title": null},
            "y": {"field": "smooth", "type": "quantitative", "title": null},
            "color": {"datum": "smooth"}
          }
        }
      ]
    }
  ],
  "config": {
    "font": "Liberation Sans",
    "view": {"fill": "#EAEAF2", "stroke": null},
    "axis": {
      "grid": true,
      "gridColor": "#FFFFFF",
      "gridWidth": 6,
      "domain": false,
      "ticks": false,
      "tickSize": 0,
      "labelFont": "Liberation Sans",
      "labelFontSize": 62,
      "labelColor": "#262626",
      "labelFlush": false,
      "labelOverlap": false
    },
    "axisX": {"labelPadding": 53},
    "axisY": {"labelPadding": 62},
    "title": {
      "font": "Liberation Sans",
      "fontSize": 70,
      "fontWeight": "normal",
      "color": "#262626",
      "anchor": "middle",
      "baseline": "bottom"
    }
  }
}
